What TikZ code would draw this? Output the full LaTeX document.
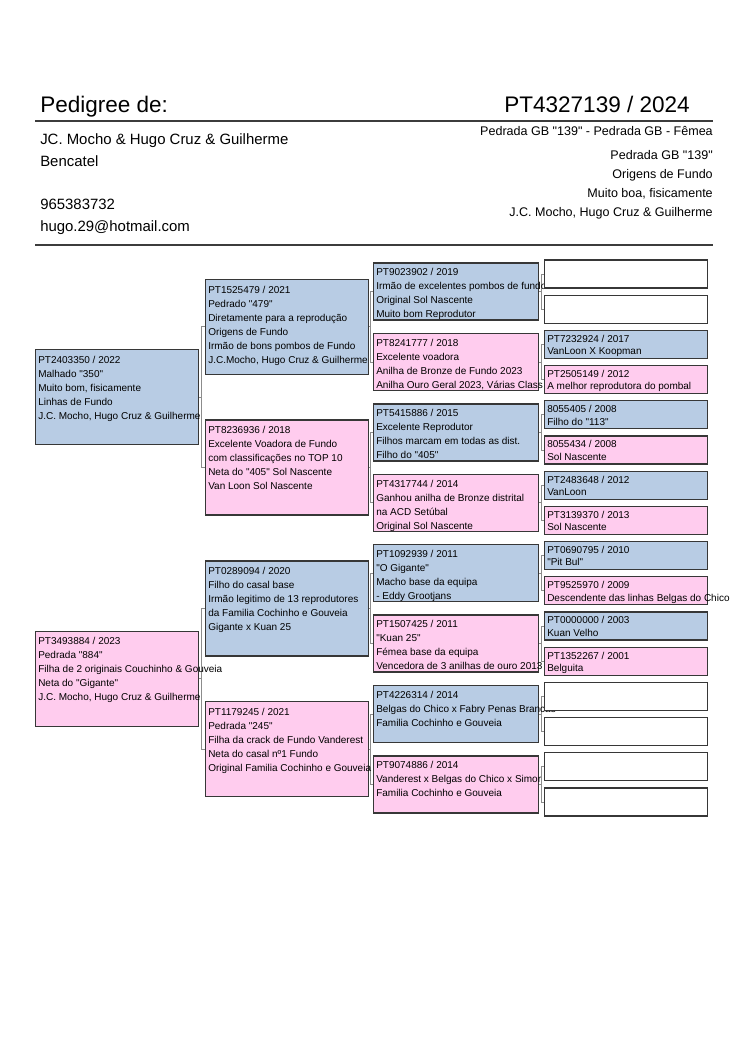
\documentclass[tikz,border=0pt]{standalone}
\usepackage{fontspec}
\setmainfont{Liberation Sans}[Ligatures=TeXOff]
\usetikzlibrary{backgrounds}
\definecolor{boxblue}{RGB}{184,204,228}
\definecolor{boxpink}{RGB}{255,204,238}
\definecolor{boxedge}{RGB}{55,55,55}
\definecolor{linkgrey}{RGB}{140,140,140}
\definecolor{rulegrey}{RGB}{60,60,60}
\tikzset{
  pbox/.style={rectangle, draw=boxedge, line width=1pt, inner sep=0pt},
  bluebx/.style={fill=boxblue},
  pinkbx/.style={fill=boxpink},
  whitebx/.style={fill=white},
  ptext/.style={inner sep=0pt, font=\fontsize{7.5}{9}\selectfont, text=black},
  link/.style={draw=linkgrey, line width=0.75pt},
  hrule/.style={draw=rulegrey, line width=1.1pt},
  title/.style={inner sep=0pt, font=\fontsize{16.9}{20}\selectfont},
  infol/.style={inner sep=0pt, font=\fontsize{11.2}{13}\selectfont, anchor=base west},
  infor/.style={inner sep=0pt, font=\fontsize{9.4}{11}\selectfont, anchor=base east},
}
% name, left x, center y, width, height, style
\newcommand\pedbox[6]{%
  \node[pbox,#6,minimum width={#4*0.75pt},minimum height={#5*0.75pt},anchor=west] (#1) at (#2,#3) {};}
% name, first baseline offset, line step, lines
\newcommand\pedtext[4]{%
  \foreach \pl [count=\pi] in {#4} {%
    \node[ptext,anchor=base west] (#1-t\pi) at ([xshift=2.25pt,yshift={-(#2+(\pi-1)*#3)*0.75pt}]#1.north west) {\pl};}}
% parent, child, shift
\newcommand\pedlink[3]{%
  \draw[link] (#1.east) -| ([xshift=#3]#2.west) -- (#2.west);}
\begin{document}
\begin{tikzpicture}[x=0.75pt,y=-0.75pt]
\useasboundingbox (0,0) rectangle (750,1060);
\begin{scope}[on background layer]
  \fill[white] (0,0) rectangle (750,1060);
\end{scope}
% header
\node[title,anchor=base west] (hdr) at (40,112) {Pedigree de:};
\node[title,anchor=base east] (ring) at (690,112) {PT4327139 / 2024};
\coordinate (r1a) at (35,121); \coordinate (r1b) at (713,121);
\coordinate (r2a) at (35,245); \coordinate (r2b) at (713,245);
\draw[hrule] (r1a) -- (r1b);
\draw[hrule] (r2a) -- (r2b);
\node[infol] (own1) at (40,144) {JC. Mocho \& Hugo Cruz \& Guilherme};
\node[infol] (own2) at (40,166) {Bencatel};
\node[infol] (own3) at (40,209) {965383732};
\node[infol] (own4) at (40,231) {hugo.29@hotmail.com};
\node[infor] (inf1) at (713,135) {Pedrada GB "139" - Pedrada GB - Fêmea};
\node[infor] (inf2) at (713,159) {Pedrada GB "139"};
\node[infor] (inf3) at (713,178) {Origens de Fundo};
\node[infor] (inf4) at (713,197) {Muito boa, fisicamente};
\node[infor] (inf5) at (713,216) {J.C. Mocho, Hugo Cruz \& Guilherme};
% column 1
\pedbox{a1}{35}{397.2}{163}{95}{bluebx}
\pedtext{a1}{14}{14}{{PT2403350 / 2022},{Malhado "350"},{Muito bom, fisicamente},{Linhas de Fundo},{J.C. Mocho, Hugo Cruz \& Guilherme}}
\pedbox{a2}{35}{678.8}{163}{95}{pinkbx}
\pedtext{a2}{14}{14}{{PT3493884 / 2023},{Pedrada "884"},{Filha de 2 originais Couchinho \& Gouveia},{Neta do "Gigante"},{J.C. Mocho, Hugo Cruz \& Guilherme}}
% column 2
\pedbox{b1}{205}{326.8}{163}{95}{bluebx}
\pedtext{b1}{14.5}{14}{{PT1525479 / 2021},{Pedrado "479"},{Diretamente para a reprodução},{Origens de Fundo},{Irmão de bons pombos de Fundo},{J.C.Mocho, Hugo Cruz \& Guilherme}}
\pedbox{b2}{205}{467.6}{163}{95}{pinkbx}
\pedtext{b2}{14.5}{14}{{PT8236936 / 2018},{Excelente Voadora de Fundo},{com classificações no TOP 10},{Neta do "405" Sol Nascente},{Van Loon Sol Nascente}}
\pedbox{b3}{205}{608.4}{163}{95}{bluebx}
\pedtext{b3}{14.5}{14}{{PT0289094 / 2020},{Filho do casal base},{Irmão legitimo de 13 reprodutores},{da Familia Cochinho e Gouveia},{Gigante x Kuan 25}}
\pedbox{b4}{205}{749.2}{163}{95}{pinkbx}
\pedtext{b4}{14.5}{14}{{PT1179245 / 2021},{Pedrada "245"},{Filha da crack de Fundo Vanderest},{Neta do casal nº1 Fundo},{Original Familia Cochinho e Gouveia}}
% column 3
\pedbox{c1}{373}{291.6}{165}{57}{bluebx}
\pedtext{c1}{13.5}{14}{{PT9023902 / 2019},{Irmão de excelentes pombos de fundo},{Original Sol Nascente},{Muito bom Reprodutor}}
\pedbox{c2}{373}{362}{165}{57}{pinkbx}
\pedtext{c2}{13.5}{14}{{PT8241777 / 2018},{Excelente voadora},{Anilha de Bronze de Fundo 2023},{Anilha Ouro Geral 2023, Várias Class}}
\pedbox{c3}{373}{432.4}{165}{57}{bluebx}
\pedtext{c3}{13.5}{14}{{PT5415886 / 2015},{Excelente Reprodutor},{Filhos marcam em todas as dist.},{Filho do "405"}}
\pedbox{c4}{373}{502.8}{165}{57}{pinkbx}
\pedtext{c4}{13.5}{14}{{PT4317744 / 2014},{Ganhou anilha de Bronze distrital},{na ACD Setúbal},{Original Sol Nascente}}
\pedbox{c5}{373}{573.2}{165}{57}{bluebx}
\pedtext{c5}{13.5}{14}{{PT1092939 / 2011},{"O Gigante"},{Macho base da equipa},{- Eddy Grootjans}}
\pedbox{c6}{373}{643.6}{165}{57}{pinkbx}
\pedtext{c6}{13.5}{14}{{PT1507425 / 2011},{"Kuan 25"},{Fémea base da equipa},{Vencedora de 3 anilhas de ouro 2013}}
\pedbox{c7}{373}{714}{165}{57}{bluebx}
\pedtext{c7}{13.5}{14}{{PT4226314 / 2014},{Belgas do Chico x Fabry Penas Brancas},{Familia Cochinho e Gouveia}}
\pedbox{c8}{373}{784.4}{165}{57}{pinkbx}
\pedtext{c8}{13.5}{14}{{PT9074886 / 2014},{Vanderest x Belgas do Chico x Simor},{Familia Cochinho e Gouveia}}
% column 4
\pedbox{d1}{544}{274}{163}{28}{whitebx}
\pedbox{d2}{544}{309.2}{163}{28}{whitebx}
\pedbox{d3}{544}{344.4}{163}{28}{bluebx}
\pedtext{d3}{12.5}{12.5}{{PT7232924 / 2017},{VanLoon X Koopman}}
\pedbox{d4}{544}{379.6}{163}{28}{pinkbx}
\pedtext{d4}{12.5}{12.5}{{PT2505149 / 2012},{A melhor reprodutora do pombal}}
\pedbox{d5}{544}{414.8}{163}{28}{bluebx}
\pedtext{d5}{12.5}{12.5}{{8055405 / 2008},{Filho do "113"}}
\pedbox{d6}{544}{450}{163}{28}{pinkbx}
\pedtext{d6}{12.5}{12.5}{{8055434 / 2008},{Sol Nascente}}
\pedbox{d7}{544}{485.2}{163}{28}{bluebx}
\pedtext{d7}{12.5}{12.5}{{PT2483648 / 2012},{VanLoon}}
\pedbox{d8}{544}{520.4}{163}{28}{pinkbx}
\pedtext{d8}{12.5}{12.5}{{PT3139370 / 2013},{Sol Nascente}}
\pedbox{d9}{544}{555.6}{163}{28}{bluebx}
\pedtext{d9}{12.5}{12.5}{{PT0690795 / 2010},{"Pit Bul"}}
\pedbox{d10}{544}{590.8}{163}{28}{pinkbx}
\pedtext{d10}{12.5}{12.5}{{PT9525970 / 2009},{Descendente das linhas Belgas do Chico}}
\pedbox{d11}{544}{626}{163}{28}{bluebx}
\pedtext{d11}{12.5}{12.5}{{PT0000000 / 2003},{Kuan Velho}}
\pedbox{d12}{544}{661.2}{163}{28}{pinkbx}
\pedtext{d12}{12.5}{12.5}{{PT1352267 / 2001},{Belguita}}
\pedbox{d13}{544}{696.4}{163}{28}{whitebx}
\pedbox{d14}{544}{731.6}{163}{28}{whitebx}
\pedbox{d15}{544}{766.8}{163}{28}{whitebx}
\pedbox{d16}{544}{802}{163}{28}{whitebx}
% connectors
\begin{scope}[on background layer]
  \pedlink{a1}{b1}{-2.6pt} \pedlink{a1}{b2}{-2.6pt}
  \pedlink{a2}{b3}{-2.6pt} \pedlink{a2}{b4}{-2.6pt}
  \pedlink{b1}{c1}{-1.9pt} \pedlink{b1}{c2}{-1.9pt}
  \pedlink{b2}{c3}{-1.9pt} \pedlink{b2}{c4}{-1.9pt}
  \pedlink{b3}{c5}{-1.9pt} \pedlink{b3}{c6}{-1.9pt}
  \pedlink{b4}{c7}{-1.9pt} \pedlink{b4}{c8}{-1.9pt}
  \pedlink{c1}{d1}{-2.25pt} \pedlink{c1}{d2}{-2.25pt}
  \pedlink{c2}{d3}{-2.25pt} \pedlink{c2}{d4}{-2.25pt}
  \pedlink{c3}{d5}{-2.25pt} \pedlink{c3}{d6}{-2.25pt}
  \pedlink{c4}{d7}{-2.25pt} \pedlink{c4}{d8}{-2.25pt}
  \pedlink{c5}{d9}{-2.25pt} \pedlink{c5}{d10}{-2.25pt}
  \pedlink{c6}{d11}{-2.25pt} \pedlink{c6}{d12}{-2.25pt}
  \pedlink{c7}{d13}{-2.25pt} \pedlink{c7}{d14}{-2.25pt}
  \pedlink{c8}{d15}{-2.25pt} \pedlink{c8}{d16}{-2.25pt}
\end{scope}
\end{tikzpicture}
\end{document}
